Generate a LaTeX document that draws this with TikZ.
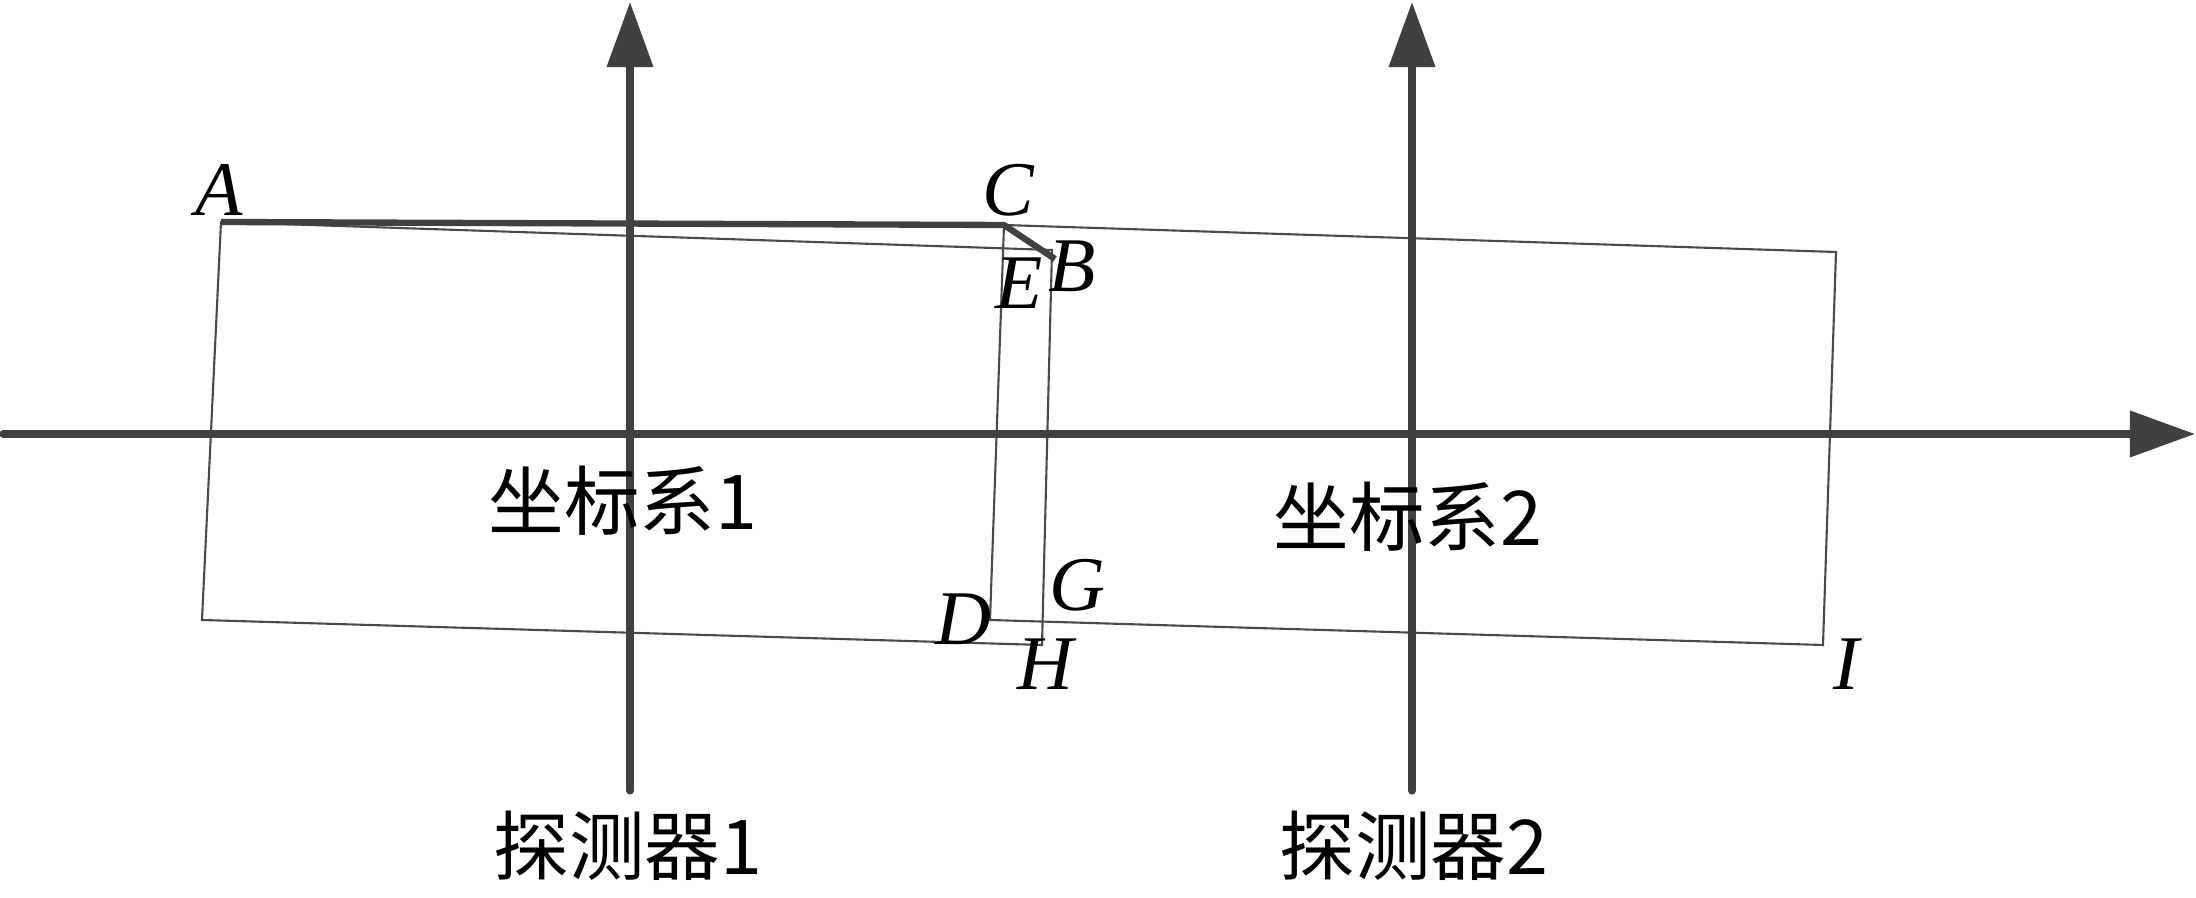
\documentclass[tikz,border=0pt]{standalone}
\usepackage{fontspec}
\setmainfont{Liberation Serif}
\newfontfamily\cjk{Noto Sans CJK SC}
\usetikzlibrary{arrows.meta}
\definecolor{axisgray}{HTML}{404040}
\definecolor{thingray}{HTML}{4A4A4A}
\tikzset{
  axisline/.style={draw=axisgray, line width=2pt, line cap=round, -{Triangle[length=18.5pt,width=12.8pt]}},
  thinrect/.style={draw=thingray, line width=0.6pt, line join=miter},
  thickpath/.style={draw=axisgray, line width=1.8pt, line join=round},
  ptlabel/.style={font=\fontsize{22pt}{24pt}\selectfont\itshape, inner sep=0pt},
  cnlabel/.style={font=\cjk\fontsize{21.5pt}{24pt}\selectfont, inner sep=0pt},
}
\begin{document}
\begin{tikzpicture}[x=0.01cm, y=-0.01cm]
\useasboundingbox (0,0) rectangle (2196,898);
% vertices
\coordinate (pA) at (221,222);
\coordinate (pE) at (1052,250);
\coordinate (pH) at (1042,645);
\coordinate (pF) at (202,620);
\coordinate (pC) at (1004,225);
\coordinate (pR) at (1836,252);
\coordinate (pI) at (1823,645);
\coordinate (pD) at (990,620);
\coordinate (pB) at (1055,259);
% axes end points
\coordinate (x0) at (3,434);
\coordinate (x1) at (2195,434);
\coordinate (v1a) at (630,791);
\coordinate (v1b) at (630,2);
\coordinate (v2a) at (1412,791);
\coordinate (v2b) at (1412,2);
% rectangles
\draw[thinrect] (pA) -- (pE) -- (pH) -- (pF) -- cycle;
\draw[thinrect] (pC) -- (pR) -- (pI) -- (pD) -- cycle;
% axes
\draw[axisline] (x0) -- (x1);
\draw[axisline] (v1a) -- (v1b);
\draw[axisline] (v2a) -- (v2b);
% thick path
\draw[thickpath] (pA) -- (pC) -- (pB);
% point labels
\node[ptlabel] (lA) at (219,190) {A};
\node[ptlabel] (lC) at (1008,190) {C};
\node[ptlabel] (lE) at (1019,283) {E};
\node[ptlabel] (lB) at (1072,266) {B};
\node[ptlabel] (lD) at (963,619) {D};
\node[ptlabel] (lG) at (1077,585) {G};
\node[ptlabel] (lH) at (1045,664) {H};
\node[ptlabel] (lI) at (1846,664) {I};
% chinese labels
\node[cnlabel] (s1) at (623,501) {坐标系1};
\node[cnlabel] (s2) at (1408,517) {坐标系2};
\node[cnlabel] (d1) at (628,846) {探测器1};
\node[cnlabel] (d2) at (1414,846) {探测器2};
\end{tikzpicture}
\end{document}
